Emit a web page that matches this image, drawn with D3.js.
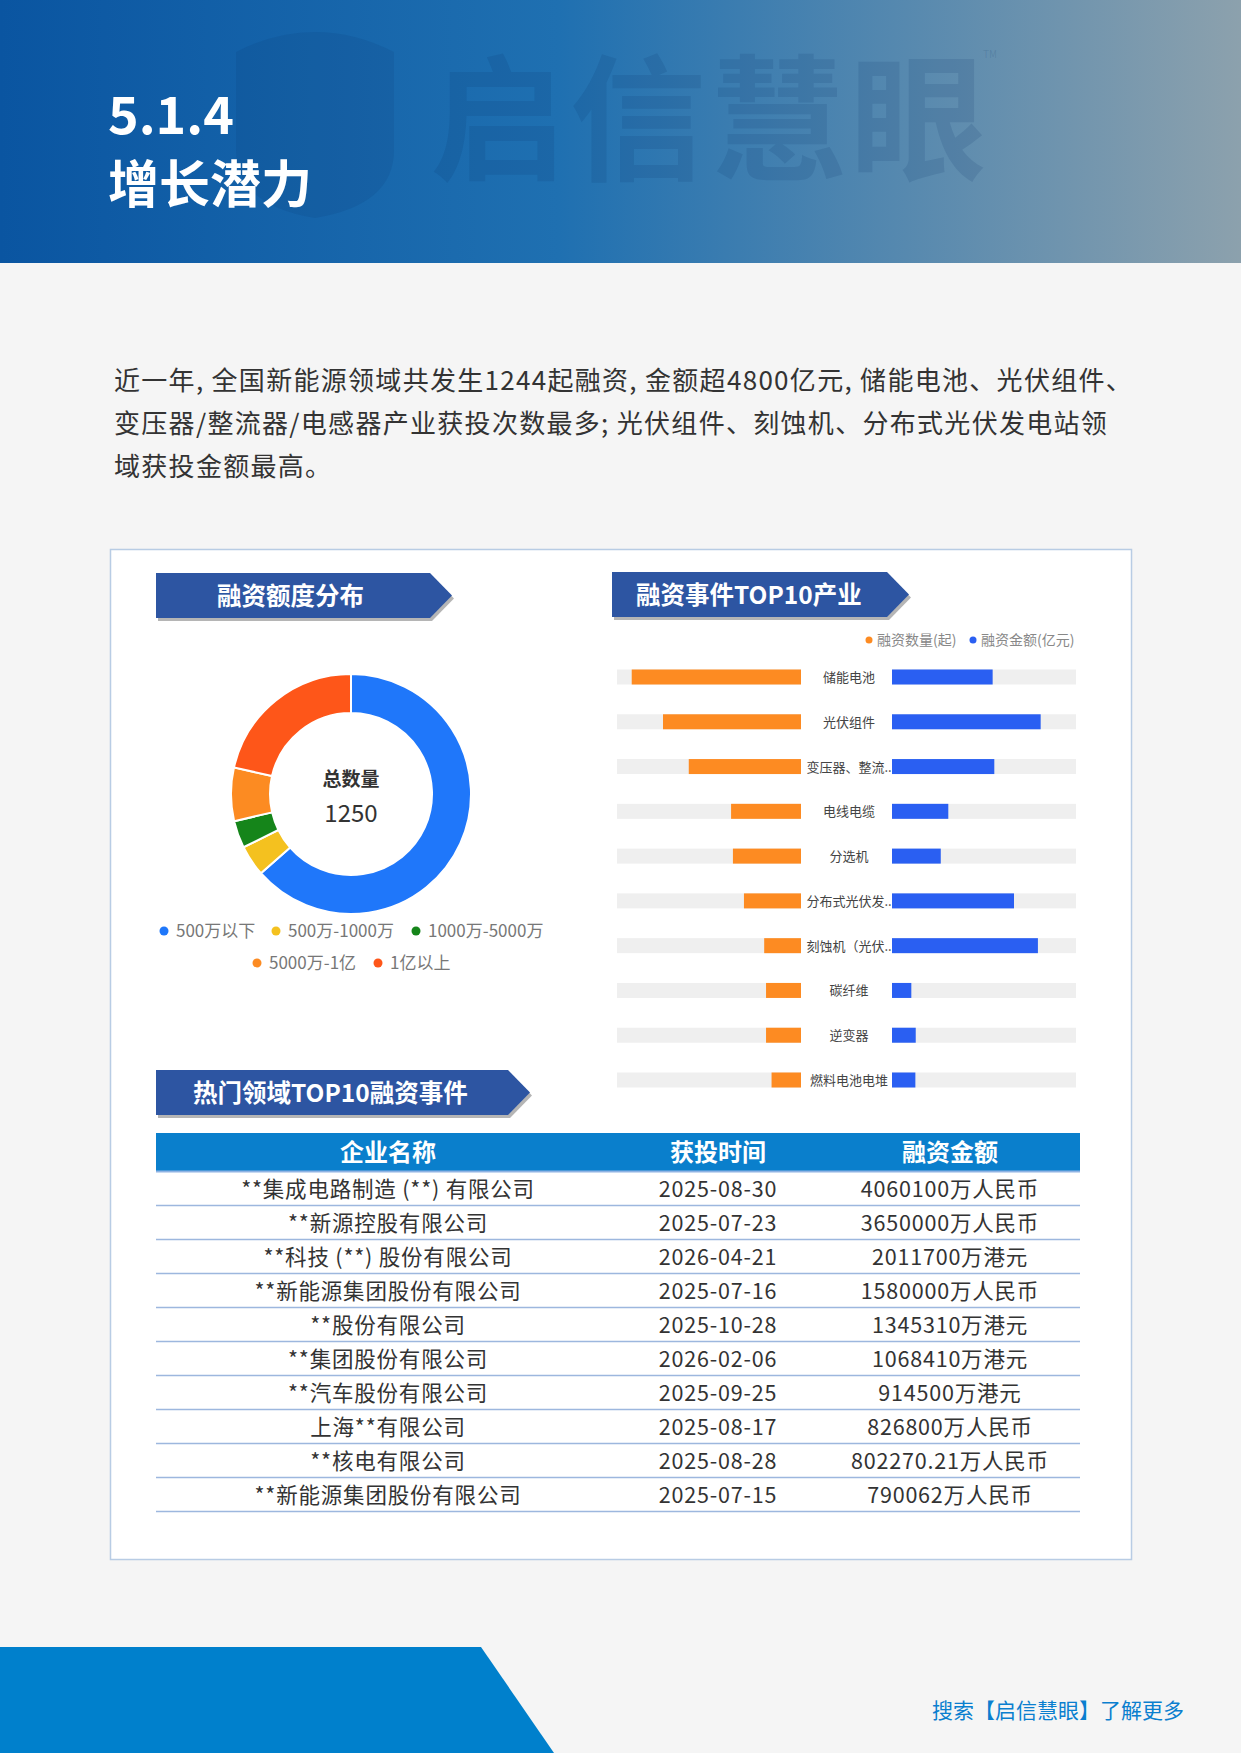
<!DOCTYPE html>
<html>
<head>
<meta charset="utf-8">
<title>增长潜力</title>
<script src="https://cdn.jsdelivr.net/npm/d3@7"></script>
<style>
  body { margin: 0; background: #f5f5f5; }
  svg { display: block; font-family: "Noto Sans CJK SC", "Noto Sans", sans-serif; }
</style>
</head>
<body>
<script>
// ---- data ----
var paragraphLines = [
  "近一年, 全国新能源领域共发生1244起融资, 金额超4800亿元, 储能电池、光伏组件、",
  "变压器/整流器/电感器产业获投次数最多; 光伏组件、刻蚀机、分布式光伏发电站领",
  "域获投金额最高。"
];

var donutLabels = ["500万以下", "500万-1000万", "1000万-5000万", "5000万-1亿", "1亿以上"];
var donutValues = [794, 52, 46, 90, 268];
var donutColors = ["#1f77fa", "#f4c11f", "#15851a", "#fc8b22", "#fe5619"];

var industries = ["储能电池", "光伏组件", "变压器、整流器、电感器", "电线电缆", "分选机",
  "分布式光伏发电站", "刻蚀机（光伏电池片）", "碳纤维", "逆变器", "燃料电池电堆"];
var industryCounts = [92, 75, 61, 38, 37, 31, 20, 19, 19, 16];      // 融资数量(起)
var industryAmounts = [547, 808, 556, 306, 265, 663, 793, 105, 129, 127]; // 融资金额(亿元)

var tableHeaders = ["企业名称", "获投时间", "融资金额"];
var companies = ["**集成电路制造 (**) 有限公司", "**新源控股有限公司", "**科技 (**) 股份有限公司",
  "**新能源集团股份有限公司", "**股份有限公司", "**集团股份有限公司", "**汽车股份有限公司",
  "上海**有限公司", "**核电有限公司", "**新能源集团股份有限公司"];
var dates = ["2025-08-30", "2025-07-23", "2026-04-21", "2025-07-16", "2025-10-28",
  "2026-02-06", "2025-09-25", "2025-08-17", "2025-08-28", "2025-07-15"];
var amounts = ["4060100万人民币", "3650000万人民币", "2011700万港元", "1580000万人民币", "1345310万港元",
  "1068410万港元", "914500万港元", "826800万人民币", "802270.21万人民币", "790062万人民币"];

// ---- page ----
var width = 1241, height = 1753;
var svg = d3.select("body").append("svg")
    .attr("width", width)
    .attr("height", height);

var defs = svg.append("defs");
var grad = defs.append("linearGradient").attr("id", "hdr").attr("x1", 0).attr("x2", 1).attr("y1", 0).attr("y2", 0);
grad.append("stop").attr("offset", "0%").attr("stop-color", "#0a55a1");
grad.append("stop").attr("offset", "45%").attr("stop-color", "#1f70b1");
grad.append("stop").attr("offset", "100%").attr("stop-color", "#8ca1ad");

svg.append("rect").attr("width", width).attr("height", height).attr("fill", "#f5f5f5");

// header
svg.append("rect").attr("width", width).attr("height", 263).attr("fill", "url(#hdr)");
// watermark shield + name
svg.append("path")
    .attr("d", "M315,32 Q275,32 236,52 L236,150 Q236,205 315,218 Q394,205 394,150 L394,52 Q355,32 315,32 Z")
    .attr("fill", "rgba(10,50,100,0.11)");
svg.append("text")
    .attr("x", 430).attr("y", 170)
    .attr("font-size", 136).attr("font-weight", 700)
    .attr("fill", "rgba(10,50,100,0.13)")
    .attr("textLength", 556)
    .text("启信慧眼");
svg.append("text").attr("x", 983).attr("y", 58).attr("font-size", 10)
    .attr("fill", "rgba(10,50,100,0.15)").text("TM");

svg.append("text").attr("x", 108).attr("y", 134)
    .attr("font-size", 52).attr("font-weight", 700).attr("fill", "#fff").text("5.1.4");
svg.append("text").attr("x", 108).attr("y", 203)
    .attr("font-size", 51).attr("font-weight", 700).attr("fill", "#fff").text("增长潜力");

// paragraph
svg.selectAll("text.para")
    .data(paragraphLines)
  .enter().append("text")
    .attr("class", "para")
    .attr("x", 114)
    .attr("y", function(d, i){ return 390 + i * 43; })
    .attr("font-size", 26)
    .attr("letter-spacing", 1.3)
    .attr("fill", "#333")
    .text(function(d){ return d; });

// card
svg.append("rect")
    .attr("x", 110.5).attr("y", 549.5).attr("width", 1021).attr("height", 1010)
    .attr("fill", "#fff").attr("stroke", "#b8cce4").attr("stroke-width", 1.5);

// ribbons
function ribbon(x, y, w, label, tx){
    var h = 45, tip = 22;
    var p = "M" + x + "," + y + "L" + (x + w) + "," + y + "L" + (x + w + tip) + "," + (y + h / 2)
        + "L" + (x + w) + "," + (y + h) + "L" + x + "," + (y + h) + "Z";
    svg.append("path").attr("d", p).attr("fill", "#b5b5b5").attr("transform", "translate(2,3)");
    svg.append("path").attr("d", p).attr("fill", "#2d55a2");
    svg.append("text").attr("x", tx).attr("y", y + h / 2 + 9)
        .attr("font-size", 24.5).attr("font-weight", 700).attr("fill", "#fff")
        .text(label);
}
ribbon(156, 573, 274, "融资额度分布", 217);
ribbon(612, 572, 275, "融资事件TOP10产业", 636);
ribbon(156, 1070, 352, "热门领域TOP10融资事件", 193);

// ---- donut ----
var cx = 351, cy = 794;
var pie = d3.pie().sort(null).value(function(d){ return d; });
var arc = d3.arc().innerRadius(81).outerRadius(120);
var donut = svg.append("g").attr("transform", "translate(" + cx + "," + cy + ")");
donut.selectAll("path")
    .data(pie(donutValues))
  .enter().append("path")
    .attr("d", arc)
    .attr("fill", function(d, i){ return donutColors[i]; })
    .attr("stroke", "#fff").attr("stroke-width", 2);
donut.append("text").attr("y", -8).attr("text-anchor", "middle")
    .attr("font-size", 19).attr("font-weight", 700).attr("fill", "#333").text("总数量");
donut.append("text").attr("y", 28).attr("text-anchor", "middle")
    .attr("font-size", 24).attr("fill", "#333").text(d3.sum(donutValues));

// donut legend
var legendPos = [[164, 931], [276, 931], [416, 931], [257, 963], [378, 963]];
var lg = svg.append("g").selectAll("g")
    .data(donutLabels)
  .enter().append("g")
    .attr("transform", function(d, i){ return "translate(" + legendPos[i][0] + "," + legendPos[i][1] + ")"; });
lg.append("circle").attr("r", 4.5).attr("fill", function(d, i){ return donutColors[i]; });
lg.append("text").attr("x", 12).attr("y", 6).attr("font-size", 17).attr("fill", "#777")
    .text(function(d){ return d; });

// ---- butterfly bars ----
var trackW = 184, leftEnd = 801, rightStart = 892, barH = 15;
var xCount = d3.scaleLinear().domain([0, 100]).range([0, trackW]);
var xAmount = d3.scaleLinear().domain([0, 1000]).range([0, trackW]);
var yInd = d3.scalePoint().domain(industries).range([677, 1080]);

var rows = svg.append("g").selectAll("g")
    .data(industries)
  .enter().append("g")
    .attr("transform", function(d){ return "translate(0," + yInd(d) + ")"; });

rows.append("rect").attr("x", leftEnd - trackW).attr("y", -barH / 2)
    .attr("width", trackW).attr("height", barH).attr("fill", "#efefef");
rows.append("rect").attr("x", rightStart).attr("y", -barH / 2)
    .attr("width", trackW).attr("height", barH).attr("fill", "#efefef");
rows.append("rect")
    .attr("x", function(d, i){ return leftEnd - xCount(industryCounts[i]); })
    .attr("y", -barH / 2)
    .attr("width", function(d, i){ return xCount(industryCounts[i]); })
    .attr("height", barH).attr("fill", "#fd8b22");
rows.append("rect")
    .attr("x", rightStart).attr("y", -barH / 2)
    .attr("width", function(d, i){ return xAmount(industryAmounts[i]); })
    .attr("height", barH).attr("fill", "#2a5ff2");
rows.append("text")
    .attr("x", 849).attr("y", 5)
    .attr("text-anchor", "middle").attr("font-size", 13).attr("fill", "#444")
    .text(function(d){ return d.length > 6 ? d.slice(0, 6) + ".." : d; });

// bar legend
var barLegend = [["融资数量(起)", "#fd8b22", 869], ["融资金额(亿元)", "#2a5ff2", 973]];
var bl = svg.append("g").selectAll("g")
    .data(barLegend)
  .enter().append("g")
    .attr("transform", function(d){ return "translate(" + d[2] + ",640)"; });
bl.append("circle").attr("r", 3.5).attr("fill", function(d){ return d[1]; });
bl.append("text").attr("x", 8).attr("y", 5).attr("font-size", 14).attr("fill", "#888")
    .text(function(d){ return d[0]; });

// ---- table ----
var tx0 = 156, tx1 = 1080;
var colX = [388, 718, 950];
svg.append("rect").attr("x", tx0).attr("y", 1133).attr("width", tx1 - tx0).attr("height", 38)
    .attr("fill", "#0a7fcc");
svg.append("line").attr("x1", tx0).attr("x2", tx1).attr("y1", 1171.5).attr("y2", 1171.5)
    .attr("stroke", "#8fb3e3").attr("stroke-width", 2);
svg.selectAll("text.th")
    .data(tableHeaders)
  .enter().append("text")
    .attr("class", "th")
    .attr("x", function(d, i){ return colX[i]; })
    .attr("y", 1161)
    .attr("text-anchor", "middle").attr("font-size", 24).attr("font-weight", 700).attr("fill", "#fff")
    .text(function(d){ return d; });

var yRow = d3.scaleBand().domain(d3.range(companies.length)).range([1172, 1512]);
var tr = svg.append("g").selectAll("g")
    .data(companies)
  .enter().append("g")
    .attr("transform", function(d, i){ return "translate(0," + yRow(i) + ")"; });
tr.append("line").attr("x1", tx0).attr("x2", tx1)
    .attr("y1", yRow.bandwidth() - 0.5).attr("y2", yRow.bandwidth() - 0.5)
    .attr("stroke", "#9db7de").attr("stroke-width", 1.3);
var cols = [companies, dates, amounts];
cols.forEach(function(col, c){
    tr.append("text")
        .attr("x", colX[c])
        .attr("y", yRow.bandwidth() / 2 + 7.5)
        .attr("text-anchor", "middle").attr("font-size", 21.5)
        .attr("letter-spacing", 0.8).attr("fill", "#333")
        .text(function(d, i){ return col[i]; });
});

// ---- footer ----
svg.append("path").attr("d", "M0,1647L481,1647L554,1753L0,1753Z").attr("fill", "#0080cc");
svg.append("text").attr("x", 1184).attr("y", 1718).attr("text-anchor", "end")
    .attr("font-size", 21).attr("fill", "#0a7fcf").text("搜索【启信慧眼】了解更多");
</script>
</body>
</html>
